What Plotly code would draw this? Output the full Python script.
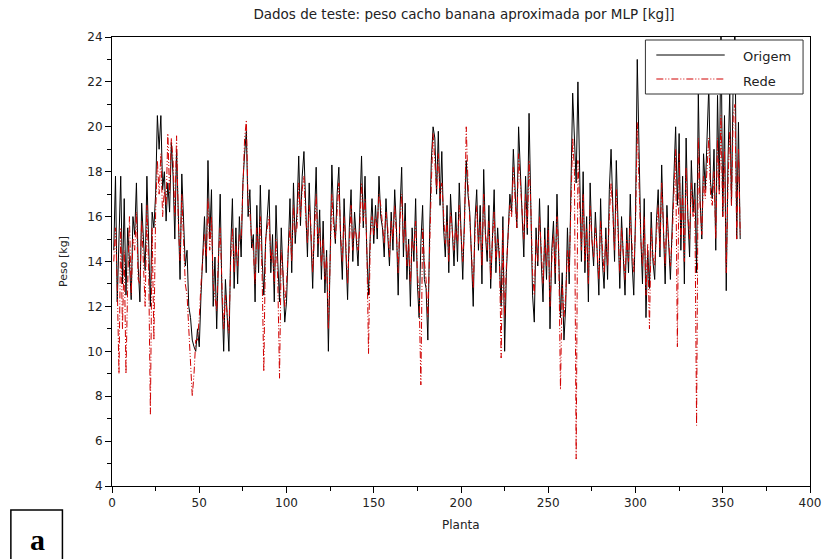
import plotly.graph_objects as go

planta = list(range(1, 361))

origem = [
    14.5, 17.8, 12.2, 15.0, 17.8, 13.0, 16.8, 12.5, 15.5, 14.0,
    12.3, 16.0, 15.2, 17.5, 13.8, 12.2, 16.6, 15.0, 13.6, 17.8,
    14.6, 12.0, 16.2, 15.5, 17.0, 20.5, 19.0, 20.5, 17.2, 18.0,
    15.8, 17.5, 16.2, 19.3, 17.8, 15.0, 19.0, 16.5, 13.2, 17.9,
    15.5, 13.8, 14.5, 12.0, 11.5, 10.5, 10.2, 10.0, 11.0, 10.2,
    12.5, 14.5, 16.0, 13.5, 18.5, 15.0, 17.2, 12.0, 14.2, 11.0,
    13.5, 17.0, 12.5, 10.0, 13.2, 11.2, 10.0, 14.5, 16.8, 12.8,
    15.5, 13.0, 16.0, 14.2, 17.5, 18.8, 19.8, 16.0, 17.2, 14.6,
    15.2, 12.2, 16.5, 13.5, 17.4, 14.2, 12.5, 14.8, 16.0, 17.2,
    13.5, 15.2, 12.2, 16.5, 14.0, 12.2, 15.5, 13.0, 11.3, 12.2,
    15.0, 16.8, 13.5, 17.5, 14.8, 16.2, 18.7, 15.6, 17.8, 18.9,
    16.5, 14.2, 17.5, 15.2, 12.8, 15.8, 18.2, 14.2, 16.3, 13.2,
    15.8, 12.6, 14.5, 10.0, 13.8, 18.3, 16.0, 14.8, 17.0, 18.2,
    15.0, 13.2, 16.8, 14.5, 12.3, 15.5, 17.2, 14.0, 16.2, 15.0,
    13.8, 16.2, 18.7, 15.5, 17.8, 14.5, 12.5, 15.2, 16.8, 14.8,
    16.5, 15.0, 17.8, 16.0, 15.5, 14.2, 16.8, 15.2, 13.8, 16.2,
    14.5, 17.2, 15.5, 12.5, 16.2, 18.2, 14.2, 16.6, 13.2, 15.0,
    12.0, 15.5, 14.0, 16.8, 13.0, 11.5, 14.8, 16.5, 13.2, 12.8,
    10.5, 15.2, 18.5, 20.0, 19.5, 17.0, 19.8, 16.5, 18.9, 15.5,
    14.2, 16.5, 13.5, 17.0, 15.2, 13.8, 16.2, 14.0, 17.5, 15.0,
    13.2, 16.0, 18.5, 17.0, 16.2, 14.2, 12.0, 15.8, 17.2, 14.5,
    16.5, 13.0, 18.1, 15.2, 14.0, 16.5, 12.8, 15.0, 17.2, 13.5,
    15.5, 14.0, 12.0, 16.0, 10.0, 13.5, 15.2, 17.0, 16.2, 19.0,
    17.2, 15.5, 20.0, 18.2, 16.0, 14.2, 17.8, 15.2, 20.6, 17.0,
    12.5, 11.3, 15.5, 13.8, 16.8, 14.0, 12.2, 15.5, 13.2, 16.5,
    11.0, 14.5, 15.8, 13.0, 17.0, 14.2, 11.5, 13.5, 10.5, 12.0,
    15.5, 13.0, 17.8, 21.5, 19.5, 17.5, 22.0, 17.0, 14.0, 18.0,
    13.5, 16.0, 12.2, 17.5, 15.0, 13.8, 16.2, 14.5, 12.5, 16.8,
    14.0, 12.8, 15.5, 13.2, 17.2, 19.0, 16.8, 14.0, 18.5, 15.5,
    12.8, 16.0, 14.2, 12.5, 15.5, 13.5, 17.0, 14.0, 12.5, 16.0,
    23.0, 18.5, 15.2, 13.0, 16.8, 11.5, 14.5, 12.8, 16.2, 14.0,
    13.2, 15.8, 17.2, 14.2, 18.3, 15.5, 13.0, 16.5, 14.5, 13.2,
    15.5, 17.5, 20.0, 16.5, 19.7, 14.5, 17.8, 13.0, 19.5, 16.0,
    14.2, 18.5, 16.2, 17.5, 13.5, 21.5, 16.8, 15.0, 18.8, 17.2,
    19.5, 21.8, 17.5, 16.8, 19.0, 14.5, 21.4, 17.2, 24.5, 16.0,
    20.5, 12.7, 18.5, 21.5, 16.5, 22.2, 24.5, 15.0, 20.2, 15.0,
]

rede = [
    14.0, 15.5, 13.0, 9.0, 15.5, 11.0, 14.5, 9.0, 13.0, 16.0,
    12.5, 15.0, 14.5, 16.2, 13.2, 13.0, 15.8, 14.2, 12.0, 16.5,
    13.8, 7.2, 15.5, 10.5, 16.2, 18.5, 17.0, 18.8, 16.0, 17.2,
    16.5, 19.7, 17.0, 19.5, 18.5, 16.0, 19.6, 15.8, 14.0, 17.0,
    14.8, 13.0, 12.5, 11.0, 9.5, 8.0, 9.0, 10.5, 10.5, 11.5,
    13.0, 14.0, 15.2, 14.2, 16.8, 14.5, 16.0, 13.0, 12.5, 11.8,
    14.2, 15.5, 13.0, 11.0, 12.5, 11.8, 10.8, 14.0, 15.5, 13.5,
    14.8, 13.8, 15.2, 15.0, 17.0, 19.5, 20.3, 16.5, 16.2, 15.0,
    14.5, 13.0, 15.5, 14.5, 16.0, 13.5, 9.1, 15.0, 15.5, 16.0,
    14.0, 14.5, 13.0, 15.0, 13.2, 8.8, 14.5, 13.5, 12.0, 13.0,
    14.5, 15.5, 14.0, 16.5, 15.2, 15.5, 17.5, 16.0, 17.2, 17.8,
    16.0, 14.8, 16.5, 15.5, 13.5, 15.2, 17.0, 14.8, 15.5, 13.8,
    15.0, 13.2, 14.2, 11.0, 14.0, 17.0, 15.5, 15.0, 16.2, 17.5,
    15.2, 14.0, 16.0, 14.8, 13.0, 15.0, 16.5, 14.5, 15.5, 15.2,
    14.5, 15.5, 17.5, 15.8, 16.8, 14.8, 9.9, 15.0, 16.0, 15.2,
    16.0, 15.5, 17.0, 16.5, 15.5, 14.8, 16.2, 15.5, 14.2, 15.8,
    15.0, 16.5, 15.2, 13.5, 15.8, 17.0, 14.8, 15.8, 13.8, 14.8,
    13.0, 15.0, 14.5, 15.8, 13.5, 12.5, 8.5, 15.5, 14.0, 13.2,
    11.5, 14.8, 17.5, 19.7, 18.5, 17.2, 18.8, 16.8, 17.5, 15.8,
    14.8, 15.8, 14.0, 16.2, 15.2, 14.5, 15.5, 14.8, 16.5, 15.2,
    14.0, 15.5, 20.0, 17.5, 16.0, 14.8, 12.8, 15.2, 16.5, 14.8,
    15.8, 13.8, 17.0, 15.2, 14.5, 15.8, 13.2, 15.0, 16.2, 14.0,
    15.0, 14.5, 9.7, 15.5, 11.5, 13.8, 15.0, 16.5, 16.0, 18.2,
    16.8, 15.5, 18.8, 17.5, 16.0, 15.0, 17.0, 15.5, 18.5, 16.5,
    13.5, 12.5, 15.0, 14.0, 16.0, 14.5, 13.0, 15.0, 13.8, 15.5,
    12.0, 14.0, 15.2, 13.5, 16.0, 14.5, 8.3, 13.0, 11.5, 12.5,
    14.5, 13.5, 16.5, 19.5, 18.0, 5.2, 18.5, 16.5, 14.5, 17.0,
    14.0, 15.5, 13.0, 16.5, 15.0, 14.2, 15.5, 14.5, 13.2, 15.8,
    14.5, 13.5, 15.0, 13.8, 16.0, 17.5, 16.2, 14.5, 17.2, 15.2,
    13.5, 15.5, 14.5, 13.2, 15.0, 14.0, 16.0, 14.5, 13.5, 15.5,
    20.2, 17.5, 15.0, 13.8, 16.0, 12.5, 14.8, 11.0, 15.5, 14.2,
    13.8, 15.2, 16.5, 14.5, 17.5, 15.5, 13.8, 16.0, 14.8, 13.8,
    15.0, 16.8, 19.0, 10.2, 18.8, 15.0, 17.0, 14.0, 18.2, 16.0,
    15.0, 17.5, 16.0, 16.8, 6.7, 19.5, 16.5, 15.2, 17.8, 16.8,
    18.5, 19.5, 17.0, 16.5, 18.0, 15.0, 19.5, 17.0, 20.5, 16.0,
    19.0, 13.5, 17.5, 19.8, 16.5, 20.5, 21.0, 15.0, 19.0, 15.2,
]

series_names = ["Origem", "Rede"]
series_colors = ["black", "#d00000"]
rede_dash = "7px,2px,1px,2px,1px,2px"

W, H = 833, 559
L, R, T, B = 112, 17, 37, 73

# plot-area extents (px) used to place the decorative items
PX0, PX1, PY0, PY1 = L, W - R, T, H - B


def px_x(p):
    return (p - PX0) / (PX1 - PX0)


def px_y(p):
    return (PY1 - p) / (PY1 - PY0)


fig = go.Figure()
fig.add_trace(go.Scatter(x=planta, y=origem, mode="lines", name=series_names[0],
                         line=dict(color=series_colors[0], width=1)))
fig.add_trace(go.Scatter(x=planta, y=rede, mode="lines", name=series_names[1],
                         line=dict(color=series_colors[1], width=1, dash=rede_dash)))

axis_common = dict(showline=True, linecolor="black", linewidth=1, mirror=True,
                   showgrid=False, zeroline=False, ticks="outside", ticklen=6,
                   tickcolor="black",
                   tickfont=dict(family="DejaVu Sans", size=12, color="#222"))

fig.update_xaxes(range=[0, 400], dtick=50, tick0=0,
                 minor=dict(dtick=25, ticks="outside", ticklen=4, tickcolor="black"),
                 **axis_common)
fig.update_yaxes(range=[4, 24], dtick=2, tick0=4,
                 minor=dict(dtick=1, ticks="outside", ticklen=4, tickcolor="black"),
                 **axis_common)

txt_font = dict(family="DejaVu Sans", size=12, color="#222")

annotations = [
    dict(text="Planta", xref="paper", yref="paper",
         x=0.5, y=px_y(525), xanchor="center", yanchor="middle",
         showarrow=False, font=txt_font),
    dict(text="Peso [kg]", xref="paper", yref="paper",
         x=px_x(63), y=0.5, xanchor="center", yanchor="middle",
         textangle=-90, showarrow=False,
         font=dict(family="DejaVu Sans", size=11, color="#222")),
    dict(text="<b>a</b>", xref="paper", yref="paper",
         x=px_x(37), y=px_y(539), xanchor="center", yanchor="middle", showarrow=False,
         font=dict(family="Liberation Serif", size=30, color="black")),
    # legend labels
    dict(text=series_names[0], xref="paper", yref="paper",
         x=px_x(746), y=px_y(57), xanchor="left", yanchor="middle", showarrow=False,
         font=dict(family="DejaVu Sans", size=13, color="#222")),
    dict(text=series_names[1], xref="paper", yref="paper",
         x=px_x(746), y=px_y(81), xanchor="left", yanchor="middle", showarrow=False,
         font=dict(family="DejaVu Sans", size=13, color="#222")),
]

shapes = [
    # "a" panel box
    dict(type="rect", xref="paper", yref="paper",
         x0=px_x(10), x1=px_x(62), y0=px_y(566), y1=px_y(510),
         line=dict(color="black", width=1.5), fillcolor="rgba(0,0,0,0)"),
    # legend box
    dict(type="rect", xref="paper", yref="paper",
         x0=px_x(650), x1=px_x(809), y0=px_y(94), y1=px_y(40),
         line=dict(color="#333", width=1), fillcolor="white", layer="above"),
    dict(type="line", xref="paper", yref="paper",
         x0=px_x(661), x1=px_x(730), y0=px_y(55), y1=px_y(55),
         line=dict(color=series_colors[0], width=1), layer="above"),
    dict(type="line", xref="paper", yref="paper",
         x0=px_x(661), x1=px_x(730), y0=px_y(79), y1=px_y(79),
         line=dict(color=series_colors[1], width=1, dash=rede_dash), layer="above"),
]

fig.update_layout(
    width=W, height=H,
    margin=dict(l=L, r=R, t=T, b=B),
    paper_bgcolor="white", plot_bgcolor="white",
    title=dict(text="Dados de teste: peso cacho banana aproximada por MLP [kg]]",
               x=464 / W, xanchor="center", y=1 - 14 / H, yanchor="middle",
               font=dict(family="DejaVu Sans", size=13.5, color="#222")),
    showlegend=False,
    annotations=annotations,
    shapes=shapes,
)

fig.write_html("out.html")
